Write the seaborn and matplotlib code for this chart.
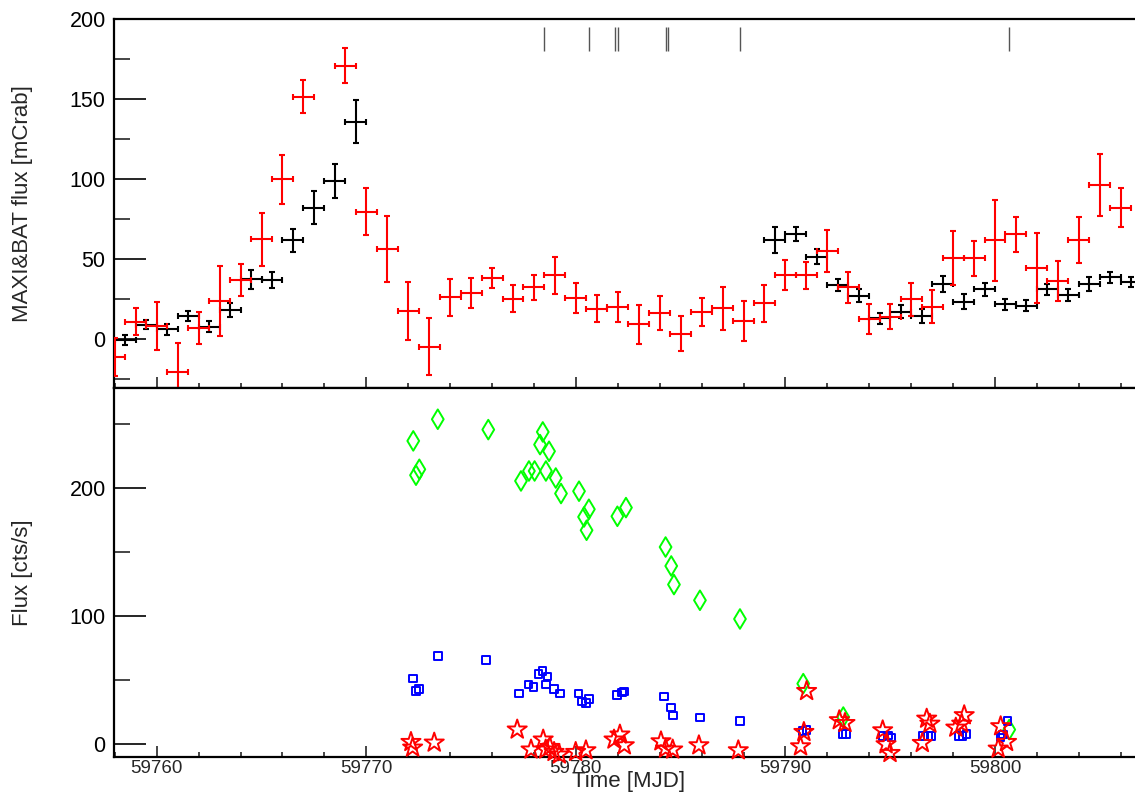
import numpy as np
import pandas as pd
import matplotlib
matplotlib.use("Agg")
import matplotlib.pyplot as plt
from matplotlib.ticker import MultipleLocator
import seaborn as sns

# ---- light curve, red series (1-day bins) ----
red_mjd = [59758, 59759, 59760, 59761, 59762, 59763, 59764, 59765, 59766, 59767,
           59769, 59770, 59771, 59772, 59773, 59774, 59775, 59776, 59777, 59778,
           59779, 59780, 59781, 59782, 59783, 59784, 59785, 59786, 59787, 59788,
           59789, 59790, 59791, 59792, 59793, 59794, 59795, 59796, 59797, 59798,
           59799, 59800, 59801, 59802, 59803, 59804, 59805, 59806]
red_flux = [-11.5, 10.8, 8.1, -20.4, 6.7, 23.7, 36.8, 62.3, 99.8, 151.3,
            170.8, 79.6, 56.1, 17.5, -4.8, 26.0, 28.9, 38.2, 25.1, 32.2,
            39.7, 25.7, 18.9, 20.0, 9.1, 16.2, 3.1, 16.8, 19.1, 11.2,
            22.3, 39.9, 39.7, 54.9, 32.2, 12.5, 13.9, 24.8, 20.2, 50.5,
            50.3, 61.7, 65.3, 44.5, 36.2, 61.7, 96.0, 82.1]
red_err = [12.0, 8.3, 15.0, 18.0, 10.0, 21.8, 10.0, 16.6, 15.2, 10.3,
           10.8, 14.8, 20.5, 18.2, 18.0, 11.7, 9.3, 6.4, 8.5, 7.8,
           11.4, 9.5, 8.6, 9.3, 12.2, 10.6, 10.9, 8.6, 13.5, 12.4,
           11.6, 9.4, 8.3, 13.3, 9.7, 9.6, 7.9, 10.2, 10.4, 16.9,
           10.9, 25.4, 10.9, 21.8, 12.6, 14.3, 19.3, 12.0]

# ---- light curve, black series (1-day bins) ----
black_mjd = [59758.5, 59759.5, 59760.5, 59761.5, 59762.5, 59763.5, 59764.5,
             59765.5, 59766.5, 59767.5, 59768.5, 59769.5,
             59789.5, 59790.5, 59791.5, 59792.5, 59793.5, 59794.5, 59795.5,
             59796.5, 59797.5, 59798.5, 59799.5, 59800.5, 59801.5, 59802.5,
             59803.5, 59804.5, 59805.5, 59806.5]
black_flux = [-0.6, 8.9, 6.0, 14.3, 7.7, 17.9, 37.2, 36.8, 61.7, 82.1, 98.7, 135.9,
              61.7, 65.5, 51.3, 33.7, 27.0, 12.9, 17.0, 14.3, 34.3, 23.3, 31.0,
              21.6, 20.8, 31.0, 27.4, 34.3, 38.5, 35.7]
black_err = [3.1, 3.0, 3.6, 3.4, 3.7, 4.4, 5.8, 5.3, 7.3, 10.1, 10.4, 13.5,
             8.1, 4.2, 4.6, 3.9, 3.9, 3.3, 4.2, 4.4, 4.9, 4.7, 4.2,
             3.4, 3.2, 3.6, 3.5, 4.2, 3.4, 3.1]
bin_half = 0.5

# ---- pointed observation epochs marked along the top ----
obs_mjd = [59778.48, 59780.63, 59781.86, 59782.02, 59784.28, 59784.38,
           59787.81, 59800.66]

# ---- count rates per band ----
green_mjd = [59772.24, 59772.37, 59772.53, 59773.41, 59775.82, 59777.38, 59777.76,
             59778.03, 59778.29, 59778.42, 59778.57, 59778.72, 59779.04, 59779.29,
             59780.15, 59780.39, 59780.51, 59780.62, 59781.98, 59782.39, 59784.28,
             59784.55, 59784.68, 59785.92, 59787.83, 59790.85, 59792.76, 59800.68]
green_rate = [237.0, 210.2, 214.8, 253.9, 245.8, 205.7, 213.5,
              213.5, 234.1, 244.0, 213.5, 228.9, 208.0, 195.9,
              197.7, 177.6, 167.2, 183.6, 178.1, 184.9, 154.1,
              139.3, 124.8, 112.5, 97.9, 47.4, 21.3, 11.5]

blue_mjd = [59772.24, 59772.36, 59772.50, 59773.42, 59775.71, 59777.30, 59777.73,
            59777.97, 59778.21, 59778.40, 59778.56, 59778.64, 59778.96, 59779.23,
            59780.13, 59780.29, 59780.48, 59780.64, 59781.96, 59782.20, 59782.29,
            59784.20, 59784.54, 59784.62, 59785.92, 59787.83, 59790.82, 59791.01,
            59792.73, 59792.89, 59794.64, 59794.88, 59795.07, 59796.57, 59796.81,
            59796.97, 59798.29, 59798.45, 59798.64, 59800.27, 59800.39, 59800.60]
blue_rate = [51.3, 41.7, 43.2, 68.8, 65.9, 39.8, 46.6,
             44.8, 54.7, 57.3, 46.6, 52.9, 43.2, 39.8,
             39.8, 33.6, 32.3, 35.2, 38.3, 40.4, 41.4,
             37.3, 28.7, 22.4, 20.9, 18.0, 10.4, 11.1,
             8.3, 8.3, 6.5, 6.9, 5.2, 6.5, 6.5,
             6.5, 6.7, 6.7, 8.3, 5.2, 7.8, 18.2]

star_mjd = [59772.13, 59772.21, 59773.24, 59777.20, 59777.86, 59778.44, 59778.56,
            59778.76, 59778.96, 59779.21, 59779.99, 59780.48, 59781.82, 59782.10,
            59782.31, 59784.06, 59784.28, 59784.62, 59785.87, 59787.75, 59790.72,
            59790.88, 59791.01, 59792.57, 59792.84, 59794.64, 59794.80, 59794.99,
            59796.53, 59796.74, 59796.89, 59798.13, 59798.41, 59798.53, 59800.15,
            59800.27, 59800.55]
star_rate = [1.8, -2.6, 1.3, 11.5, -4.1, 3.7, -4.1,
             -2.1, -6.0, -8.0, -6.0, -4.7, 3.7, 7.6,
             -0.8, 2.3, -3.4, -4.1, -0.8, -4.7, -1.6,
             9.6, 41.6, 18.8, 16.6, 10.9, 0.0, -6.8,
             1.0, 20.0, 16.1, 13.0, 16.1, 22.7, -3.4,
             14.1, 1.8]

sns.set_theme(style="white")
plt.rcParams["font.family"] = ["Liberation Sans", "DejaVu Sans"]
plt.rcParams["axes.linewidth"] = 1.5

W, H = 1135, 797
fig = plt.figure(figsize=(W / 100, H / 100), dpi=100)
left = 114 / W
ax1 = fig.add_axes([left, 1 - 387.5 / H, 1 - left, (387.5 - 19) / H])
ax2 = fig.add_axes([left, 1 - 757 / H, 1 - left, (757 - 387.5) / H], sharex=ax1)

# upper panel: binned fluxes with error bars
ax1.errorbar(black_mjd, black_flux, xerr=bin_half, yerr=black_err, fmt="none",
             ecolor="black", elinewidth=1.5, capsize=2.5, capthick=1.5, zorder=2)
ax1.errorbar(red_mjd, red_flux, xerr=bin_half, yerr=red_err, fmt="none",
             ecolor="#ff0000", elinewidth=1.5, capsize=2.5, capthick=1.5, zorder=3)
ax1.vlines(obs_mjd, 180, 195, color="#555555", linewidth=1.0, zorder=2)
ax1.set_ylim(-30.4, 200)
ax1.set_ylabel("MAXI&BAT flux [mCrab]", fontsize=16)
ax1.yaxis.set_label_coords(-0.079, 0.5)

# lower panel: count rates
sns.scatterplot(x=green_mjd, y=green_rate, ax=ax2, marker="d", s=100,
                facecolor="none", edgecolor="#00ff00", linewidth=1.4,
                clip_on=False, zorder=3)
sns.scatterplot(x=blue_mjd, y=blue_rate, ax=ax2, marker="s", s=30,
                facecolor="none", edgecolor="#0000ff", linewidth=1.4,
                clip_on=False, zorder=4)
sns.scatterplot(x=star_mjd, y=star_rate, ax=ax2, marker="*", s=210,
                facecolor="none", edgecolor="#ff0000", linewidth=1.4,
                clip_on=False, zorder=5)
ax2.set_ylim(-9.9, 278.7)
ax2.set_ylabel("Flux [cts/s]", fontsize=16)
ax2.yaxis.set_label_coords(-0.079, 0.5)
ax2.set_xlabel("Time [MJD]", fontsize=16)
ax2.xaxis.set_label_coords(0.504, -0.039)

ax1.set_xlim(59757.96, 59806.68)
ax1.xaxis.set_major_locator(MultipleLocator(10))
ax1.xaxis.set_minor_locator(MultipleLocator(2))
ax1.yaxis.set_major_locator(MultipleLocator(50))
ax1.yaxis.set_minor_locator(MultipleLocator(25))
ax2.yaxis.set_major_locator(MultipleLocator(100))
ax2.yaxis.set_minor_locator(MultipleLocator(50))
ax2.xaxis.set_major_formatter(matplotlib.ticker.FormatStrFormatter("%d"))

for ax in (ax1, ax2):
    for side in ("left", "bottom", "top"):
        ax.spines[side].set_visible(True)
        ax.spines[side].set_color("black")
        ax.spines[side].set_linewidth(1.6)
    ax.spines["right"].set_visible(False)
    ax.tick_params(axis="y", which="major", direction="in", length=23, width=1.2,
                   labelsize=15.5, pad=6, left=True, right=False, colors="black")
    ax.tick_params(axis="y", which="minor", direction="in", length=11.5, width=1.2,
                   left=True, right=False)
    ax.tick_params(axis="x", which="major", direction="in", length=8, width=1.2,
                   bottom=True, top=False, pad=2.5, labelsize=13.5)
    ax.tick_params(axis="x", which="minor", direction="in", length=3.8, width=1.2,
                   bottom=True, top=False)
ax1.tick_params(axis="x", labelbottom=False)

fig.savefig("out.png", dpi=100)
